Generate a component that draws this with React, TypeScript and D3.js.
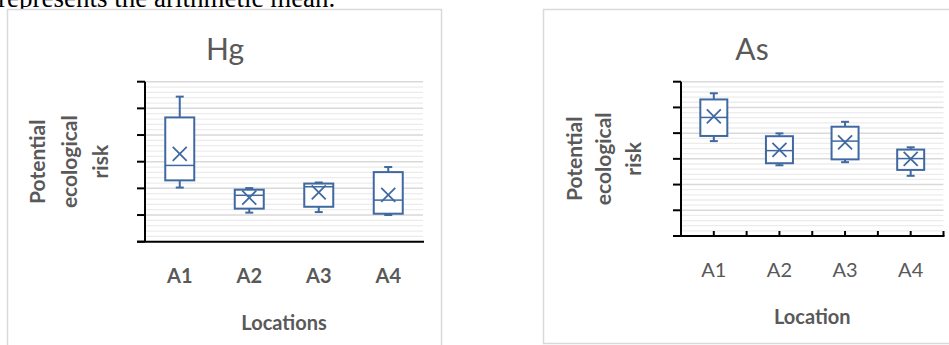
import React from 'react'
import * as d3 from 'd3'

// categories and box stats (y axis has no labels, 0-6 units)
const categories = ['A1', 'A2', 'A3', 'A4']

const hgMin = [2.03, 1.09, 1.11, 1.0]
const hgQ1 = [2.3, 1.24, 1.31, 1.05]
const hgMedian = [2.86, 1.74, 2.06, 1.56]
const hgQ3 = [4.66, 1.95, 2.18, 2.61]
const hgMax = [5.44, 2.01, 2.22, 2.8]
const hgMean = [3.29, 1.65, 1.85, 1.76]

const asMin = [3.69, 2.75, 2.87, 2.34]
const asQ1 = [3.89, 2.83, 2.98, 2.57]
const asMedian = [4.61, 3.32, 3.69, 3.01]
const asQ3 = [5.31, 3.88, 4.25, 3.36]
const asMax = [5.55, 3.99, 4.44, 3.45]
const asMean = [4.65, 3.35, 3.64, 3.0]

const yTicks = [0, 1, 2, 3, 4, 5, 6]

const BLUE = '#3f69a0'
const GREY = '#595959'
const FONT = 'Lato, Carlito, sans-serif'

type Stats = { min: number[], q1: number[], median: number[], q3: number[], max: number[], mean: number[] }

type PanelProps = {
    title: string
    stats: Stats
    xTitle: string
    boldCats: boolean
    left: number
    right: number
    top: number
    bottom: number
    boxW: number
    catTicks: boolean
    titleX: number
    titleY: number
    labelX: number[]
    catY: number
    xTitleY: number
}

function Panel(p: PanelProps) {
    const y = d3.scaleLinear().domain([0, 6]).range([p.bottom, p.top])
    const x = d3.scaleBand().domain(categories).range([p.left, p.right])
    const minor = d3.range(0, 6.001, 0.2).filter(v => Math.abs(v - Math.round(v)) > 0.01)
    const midY = (p.top + p.bottom) / 2
    const cap = 4

    const catTickXs: number[] = []
    if (p.catTicks) {
        categories.forEach(c => {
            catTickXs.push(x(c)! + x.bandwidth() / 2)
            catTickXs.push(x(c)! + x.bandwidth())
        })
    }

    return (
        <g>
            {/* gridlines */}
            {minor.map(v => (
                <line key={'m' + v} x1={p.left} x2={p.right} y1={y(v)} y2={y(v)} stroke="#ececec" strokeWidth={1.3} />
            ))}
            {yTicks.slice(1).map(v => (
                <line key={'g' + v} x1={p.left} x2={p.right} y1={y(v)} y2={y(v)} stroke="#d9d9d9" strokeWidth={1.5} />
            ))}

            {/* axes */}
            <line x1={p.left} x2={p.left} y1={p.top} y2={p.bottom} stroke="#000" strokeWidth={2} />
            {yTicks.map(v => (
                <line key={'t' + v} x1={p.left - 8} x2={p.left} y1={y(v)} y2={y(v)} stroke="#000" strokeWidth={2} />
            ))}
            <line x1={p.left - 8} x2={p.right + 1} y1={p.bottom} y2={p.bottom} stroke="#000" strokeWidth={2} />
            {catTickXs.map((cx, i) => (
                <line key={'c' + i} x1={cx} x2={cx} y1={p.bottom} y2={p.bottom - 5} stroke="#000" strokeWidth={2} />
            ))}

            {/* boxes */}
            {categories.map((c, i) => {
                const cx = x(c)! + x.bandwidth() / 2
                const hw = p.boxW / 2
                const m = y(p.stats.mean[i])
                return (
                    <g key={c} stroke={BLUE} strokeWidth={2} fill="none">
                        <line x1={cx} x2={cx} y1={y(p.stats.max[i])} y2={y(p.stats.q3[i])} />
                        <line x1={cx} x2={cx} y1={y(p.stats.q1[i])} y2={y(p.stats.min[i])} />
                        <line x1={cx - cap} x2={cx + cap} y1={y(p.stats.max[i])} y2={y(p.stats.max[i])} />
                        <line x1={cx - cap} x2={cx + cap} y1={y(p.stats.min[i])} y2={y(p.stats.min[i])} />
                        <rect x={cx - hw} y={y(p.stats.q3[i])} width={p.boxW}
                            height={y(p.stats.q1[i]) - y(p.stats.q3[i])} fill="#fff" />
                        <line x1={cx - hw} x2={cx + hw} y1={y(p.stats.median[i])} y2={y(p.stats.median[i])} strokeWidth={1.5} />
                        <line x1={cx - 7} x2={cx + 7} y1={m - 7} y2={m + 7} strokeWidth={1.8} />
                        <line x1={cx - 7} x2={cx + 7} y1={m + 7} y2={m - 7} strokeWidth={1.8} />
                    </g>
                )
            })}

            {/* texts */}
            <text x={p.titleX} y={p.titleY} textAnchor="middle" fontFamily={FONT} fontSize={30} fill={GREY}>{p.title}</text>
            {['Potential', 'ecological', 'risk'].map((t, i) => (
                <text key={t} transform={`translate(${p.labelX[i]},${midY}) rotate(-90)`} textAnchor="middle"
                    fontFamily={FONT} fontWeight="bold" fontSize={21} fill={GREY}>{t}</text>
            ))}
            {categories.map(c => (
                <text key={'l' + c} x={x(c)! + x.bandwidth() / 2} y={p.catY} textAnchor="middle" fontFamily={FONT}
                    fontWeight={p.boldCats ? 'bold' : 'normal'} fontSize={20} fill={GREY}>{c}</text>
            ))}
            <text x={(p.left + p.right) / 2} y={p.xTitleY} textAnchor="middle" fontFamily={FONT}
                fontWeight="bold" fontSize={20} fill={GREY}>{p.xTitle}</text>
        </g>
    )
}

export default function App() {
    const hg: Stats = { min: hgMin, q1: hgQ1, median: hgMedian, q3: hgQ3, max: hgMax, mean: hgMean }
    const as: Stats = { min: asMin, q1: asQ1, median: asMedian, q3: asQ3, max: asMax, mean: asMean }
    return (
        <div style={{ position: 'absolute', left: 0, top: 0 }}>
            <svg width={949} height={345} style={{ display: 'block', background: '#fff' }}>
                <text x={-2} y={7} fontFamily="'Liberation Serif', 'Times New Roman', serif" fontSize={27} fill="#000">
                    represents the arithmetic mean.
                </text>
                <rect x={7.5} y={9.5} width={434} height={400} fill="#fff" stroke="#d9d9d9" strokeWidth={1.5} />
                <rect x={543.5} y={9.5} width={450} height={334} fill="#fff" stroke="#d9d9d9" strokeWidth={1.5} />
                <Panel title="Hg" stats={hg} xTitle="Locations" boldCats={true}
                    left={145} right={423} top={81.7} bottom={241.7} boxW={29} catTicks={false}
                    titleX={225} titleY={60} labelX={[45, 76.5, 108]} catY={283} xTitleY={330} />
                <Panel title="As" stats={as} xTitle="Location" boldCats={false}
                    left={681} right={943.5} top={81.7} bottom={236} boxW={27} catTicks={true}
                    titleX={752} titleY={60} labelX={[581.5, 611, 640.5]} catY={277} xTitleY={324} />
            </svg>
        </div>
    )
}
